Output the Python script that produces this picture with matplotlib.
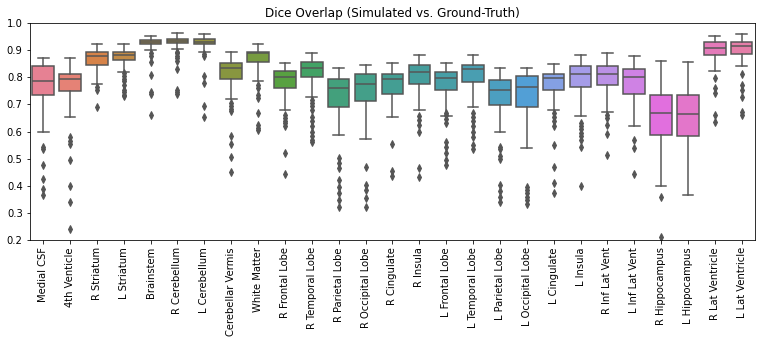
import matplotlib
matplotlib.use('Agg')
import matplotlib.pyplot as plt
import seaborn as sns

regions = ['Medial CSF', '4th Venticle', 'R Striatum', 'L Striatum', 'Brainstem',
           'R Cerebellum', 'L Cerebellum', 'Cerebellar Vermis', 'White Matter',
           'R Frontal Lobe', 'R Temporal Lobe', 'R Parietal Lobe', 'R Occipital Lobe',
           'R Cingulate', 'R Insula', 'L Frontal Lobe', 'L Temporal Lobe',
           'L Parietal Lobe', 'L Occipital Lobe', 'L Cingulate', 'L Insula',
           'R Inf Lat Vent', 'L Inf Lat Vent', 'R Hippocampus', 'L Hippocampus',
           'R Lat Ventricle', 'L Lat Ventricle']

# box statistics
whis_low = [0.597, 0.654, 0.777, 0.818, 0.902, 0.905, 0.895, 0.721, 0.788,
            0.679, 0.729, 0.589, 0.571, 0.652, 0.679, 0.658, 0.689, 0.599,
            0.541, 0.679, 0.658, 0.674, 0.622, 0.401, 0.368, 0.822, 0.840]
q1 = [0.733, 0.748, 0.844, 0.865, 0.922, 0.927, 0.924, 0.795, 0.856,
      0.761, 0.802, 0.692, 0.713, 0.740, 0.774, 0.755, 0.784, 0.699,
      0.689, 0.754, 0.765, 0.772, 0.739, 0.589, 0.582, 0.884, 0.887]
medians = [0.785, 0.792, 0.877, 0.881, 0.930, 0.934, 0.931, 0.833, 0.889,
           0.800, 0.836, 0.761, 0.777, 0.792, 0.818, 0.798, 0.829, 0.755,
           0.766, 0.796, 0.811, 0.811, 0.800, 0.667, 0.663, 0.907, 0.914]
q3 = [0.843, 0.814, 0.892, 0.895, 0.938, 0.943, 0.942, 0.851, 0.894,
      0.824, 0.856, 0.793, 0.813, 0.813, 0.847, 0.820, 0.847, 0.791,
      0.806, 0.814, 0.843, 0.843, 0.831, 0.736, 0.736, 0.929, 0.929]
whis_high = [0.873, 0.870, 0.922, 0.922, 0.951, 0.962, 0.959, 0.894, 0.922,
             0.852, 0.889, 0.833, 0.846, 0.852, 0.884, 0.852, 0.884, 0.833,
             0.836, 0.849, 0.881, 0.888, 0.877, 0.861, 0.855, 0.954, 0.958]
outliers = [
    [0.545, 0.535, 0.475, 0.425, 0.39, 0.365],
    [0.58, 0.565, 0.555, 0.495, 0.40, 0.34, 0.24],
    [0.765, 0.755, 0.69],
    [0.815, 0.805, 0.795, 0.785, 0.77, 0.755, 0.745, 0.735, 0.73],
    [0.89, 0.88, 0.855, 0.81, 0.745, 0.74, 0.66],
    [0.895, 0.89, 0.88, 0.87, 0.86, 0.83, 0.755, 0.745, 0.74],
    [0.885, 0.88, 0.805, 0.78, 0.695, 0.655],
    [0.705, 0.695, 0.685, 0.675, 0.585, 0.555, 0.505, 0.45],
    [0.77, 0.76, 0.735, 0.725, 0.67, 0.625, 0.615, 0.605],
    [0.66, 0.65, 0.64, 0.63, 0.62, 0.52, 0.445],
    [0.715, 0.705, 0.695, 0.68, 0.655, 0.64, 0.62, 0.60, 0.585, 0.57, 0.56],
    [0.502, 0.483, 0.465, 0.422, 0.397, 0.373, 0.348, 0.323],
    [0.471, 0.403, 0.385, 0.357, 0.323],
    [0.555, 0.456, 0.437],
    [0.656, 0.641, 0.625, 0.60, 0.465, 0.434],
    [0.67, 0.66, 0.645, 0.63, 0.56, 0.545, 0.52, 0.495, 0.475],
    [0.67, 0.655, 0.64, 0.62, 0.60, 0.58, 0.55, 0.535],
    [0.545, 0.535, 0.51, 0.50, 0.403, 0.38, 0.36, 0.342],
    [0.397, 0.385, 0.373, 0.36, 0.347, 0.333],
    [0.668, 0.655, 0.64, 0.619, 0.551, 0.471, 0.41, 0.373],
    [0.631, 0.62, 0.61, 0.595, 0.585, 0.57, 0.545, 0.40],
    [0.662, 0.65, 0.625, 0.59, 0.514],
    [0.569, 0.539, 0.444],
    [0.358, 0.21],
    [],
    [0.797, 0.760, 0.742, 0.662, 0.637],
    [0.813, 0.772, 0.754, 0.729, 0.674, 0.662],
]

stats = []
for i, name in enumerate(regions):
    stats.append(dict(label=name, whislo=whis_low[i], q1=q1[i], med=medians[i],
                      q3=q3[i], whishi=whis_high[i], fliers=outliers[i]))

colors = [sns.desaturate(c, 0.75) for c in sns.color_palette('husl', len(regions))]
gray = '#555555'

fig, ax = plt.subplots(figsize=(762 / 72, 344 / 72), dpi=72)
fig.subplots_adjust(left=0.039, right=0.991, top=0.933, bottom=0.302)

bp = ax.bxp(stats, positions=range(len(regions)), widths=0.8, capwidths=0.4,
            patch_artist=True,
            boxprops=dict(edgecolor=gray, linewidth=1.5),
            whiskerprops=dict(color=gray, linewidth=1.5),
            capprops=dict(color=gray, linewidth=1.5),
            medianprops=dict(color=gray, linewidth=1.5),
            flierprops=dict(marker='d', markerfacecolor=gray, markeredgecolor=gray,
                            markersize=5))
for patch, c in zip(bp['boxes'], colors):
    patch.set_facecolor(c)

ax.set_xlim(-0.5, len(regions) - 0.5)
ax.set_ylim(0.2, 1.0)
ax.set_xticks(range(len(regions)))
ax.set_xticklabels(regions, rotation=90)
ax.set_title('Dice Overlap (Simulated vs. Ground-Truth)')

plt.savefig('out.png', dpi=72)
